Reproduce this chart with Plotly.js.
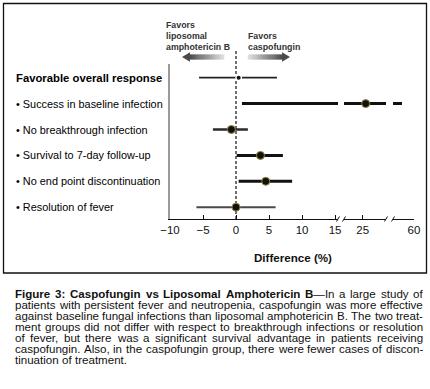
<!DOCTYPE html>
<html>
<head>
<meta charset="utf-8">
<script src="https://cdn.plot.ly/plotly-3.0.1.min.js"></script>
<style>
  html, body { margin: 0; padding: 0; background: #fff; }
  #chart { width: 430px; height: 389px; }
</style>
</head>
<body>
<div id="chart"></div>
<script>
// ---------- data ----------
const rowLabels = [
  "Favorable overall response",
  "• Success in baseline infection",
  "• No breakthrough infection",
  "• Survival to 7-day follow-up",
  "• No end point discontinuation",
  "• Resolution of fever"
];
const difference = [0.4, 26.0, -0.7, 3.7, 4.5, 0.0];
const ciLower    = [-5.6, 0.9, -3.5, 0.1, 0.4, -6.0];
const ciUpper    = [6.2, 51.3, 1.8, 7.1, 8.5, 6.0];

const tickVals1 = [-10, -5, 0, 5, 10, 15];
const tickText1 = ["\u221210", "\u22125", "0", "5", "10", "15"];
const tickVals2 = [25];
const tickText2 = ["25"];
const tickVals3 = [60];
const tickText3 = ["60"];

const favorsLeft  = ["Favors", "liposomal", "amphotericin B"];
const favorsRight = ["Favors", "caspofungin"];
const xTitle = "Difference (%)";

const captionLines = [
  "<b>Figure 3: Caspofungin vs Liposomal Amphotericin B</b>—In a large study of",
  "patients with persistent fever and neutropenia, caspofungin was more effective",
  "against baseline fungal infections than liposomal amphotericin B. The two treat-",
  "ment groups did not differ with respect to breakthrough infections or resolution",
  "of fever, but there was a significant survival advantage in patients receiving",
  "caspofungin. Also, in the caspofungin group, there were fewer cases of discon-",
  "tinuation of treatment."
];

// ---------- styles ----------
const FONT = '"Liberation Sans", Arial, Helvetica, sans-serif';
const lineColors = ["#222222", "#111111", "#2a2a2a", "#111111", "#111111", "#4a4a4a"];
const lineWidths = [1.7, 3, 2.4, 3, 3, 2];
const markerSizes = [5.5, 8, 8, 8, 8, 8];

// plot area in pixels
const W = 430, H = 389;
const L = 170, R = 414, T = 64, B = 219;
const PW = R - L, PH = B - T;
const px = v => (v - L) / PW;
const py = v => (B - v) / PH;

const ranges = [[-10, 15.45], [18.77, 32.77], [44.8, 60]];
const axisNames = ['x', 'x2', 'x3'];
const n = rowLabels.length;
const ypos = rowLabels.map((_, i) => n - 1 - i);

const traces = [];
for (let i = 0; i < n; i++) {
  for (let a = 0; a < 3; a++) {
    const [r0, r1] = ranges[a];
    if (ciUpper[i] < r0 || ciLower[i] > r1) continue;
    traces.push({
      x: [ciLower[i], ciUpper[i]], y: [ypos[i], ypos[i]],
      xaxis: axisNames[a], yaxis: 'y', mode: 'lines',
      line: { color: lineColors[i], width: lineWidths[i] },
      hoverinfo: 'skip', showlegend: false
    });
  }
}
for (let i = 0; i < n; i++) {
  for (let a = 0; a < 3; a++) {
    const [r0, r1] = ranges[a];
    if (difference[i] < r0 || difference[i] > r1) continue;
    const small = i === 0;
    traces.push({
      x: [difference[i]], y: [ypos[i]],
      xaxis: axisNames[a], yaxis: 'y', mode: 'markers',
      marker: {
        color: '#111111', size: markerSizes[i],
        line: small ? { color: '#ffffff', width: 1.4 } : { color: '#9a8a3a', width: 1 }
      },
      hoverinfo: 'skip', showlegend: false
    });
  }
}

const shapes = [];
// outer frame
shapes.push({ type: 'rect', xref: 'paper', yref: 'paper',
  x0: px(3.5), x1: px(426.5), y0: py(273), y1: py(3.5),
  line: { color: '#111', width: 1.3 }, fillcolor: 'rgba(0,0,0,0)' });
// zero reference line
shapes.push({ type: 'line', xref: 'x', yref: 'paper', x0: 0, x1: 0,
  y0: 0, y1: py(50), line: { color: '#111', width: 1.2, dash: '3px,2px' }, layer: 'below' });
// axis break slashes
[338, 344, 386, 393].forEach(xb => {
  shapes.push({ type: 'line', xref: 'paper', yref: 'paper',
    x0: px(xb - 1.5), y0: py(221.5), x1: px(xb + 1.5), y1: py(216.5),
    line: { color: '#111', width: 1 } });
});
// gradient arrows
function lerpColor(c0, c1, t) {
  const r = Math.round(c0[0] + (c1[0] - c0[0]) * t);
  const g = Math.round(c0[1] + (c1[1] - c0[1]) * t);
  const b = Math.round(c0[2] + (c1[2] - c0[2]) * t);
  return `rgb(${r},${g},${b})`;
}
const dark = [75, 75, 75], light = [225, 225, 225];
function arrow(tip, tail, yc) {
  const dir = tail > tip ? 1 : -1;
  const headLen = 8, headH = 4.8, shaftH = 2.5;
  const base = tip + dir * headLen;
  const steps = 36;
  for (let k = 0; k < steps; k++) {
    const a = base + (tail - base) * k / steps;
    const b = base + (tail - base) * (k + 1) / steps;
    shapes.push({ type: 'rect', xref: 'paper', yref: 'paper',
      x0: px(Math.min(a, b) - 0.3), x1: px(Math.max(a, b) + 0.3),
      y0: py(yc + shaftH), y1: py(yc - shaftH),
      line: { width: 0 }, fillcolor: lerpColor(dark, light, (k + 0.5) / steps) });
  }
  shapes.push({ type: 'path', xref: 'paper', yref: 'paper',
    path: `M ${px(tip)},${py(yc)} L ${px(base)},${py(yc - headH)} L ${px(base)},${py(yc + headH)} Z`,
    line: { width: 0 }, fillcolor: lerpColor(dark, light, 0) });
}
arrow(182, 224, 57);
arrow(290, 248, 57);

const annotations = [];
function addText(text, xpx, ypx, size, color) {
  annotations.push({
    text, xref: 'paper', yref: 'paper', x: px(xpx), y: py(ypx),
    xanchor: 'left', yanchor: 'middle', showarrow: false, borderpad: 0,
    font: { family: FONT, size, color }
  });
}
favorsLeft.forEach((t, k) => addText('<b>' + t + '</b>', 165, 25 + 11 * k, 8.8, '#333'));
favorsRight.forEach((t, k) => addText('<b>' + t + '</b>', 247, 36 + 11 * k, 8.8, '#333'));
rowLabels.forEach((t, i) => {
  annotations.push({
    text: i === 0 ? '<b>' + t + '</b>' : t,
    xref: 'paper', yref: 'y', x: px(15), y: ypos[i],
    xanchor: 'left', yanchor: 'middle', showarrow: false, borderpad: 0,
    font: { family: FONT, size: i === 0 ? 11.3 : 10.9, color: '#000' }
  });
});
annotations.push({ text: '<b>' + xTitle + '</b>', xref: 'paper', yref: 'paper',
  x: px(292.5), y: py(257), xanchor: 'center', yanchor: 'middle', showarrow: false,
  borderpad: 0, font: { family: FONT, size: 11.6, color: '#111' } });

// caption, justified word by word
const ctx = document.createElement('canvas').getContext('2d');
let CAP_SIZE = 10;
function measure(html) {
  let w = 0, bold = false;
  html.split(/(<b>|<\/b>)/).forEach(p => {
    if (p === '<b>') { bold = true; return; }
    if (p === '</b>') { bold = false; return; }
    if (!p) return;
    ctx.font = (bold ? 'bold ' : '') + CAP_SIZE + 'px "Liberation Sans", Arial, sans-serif';
    w += ctx.measureText(p).width;
  });
  return w;
}
function tokenize(line) {
  const words = [];
  let bold = false;
  line.split(' ').forEach(w => {
    const startsBold = bold;
    if (w.includes('<b>')) bold = true;
    if (w.includes('</b>')) bold = false;
    let t = w;
    if (startsBold && !t.startsWith('<b>')) t = '<b>' + t;
    if (bold && !t.endsWith('</b>')) t = t + '</b>';
    words.push(t);
  });
  return words;
}
const CAP_X0 = 14, CAP_X1 = 422;
{
  let maxW = 0;
  captionLines.slice(0, -1).forEach(l => { maxW = Math.max(maxW, measure(l)); });
  CAP_SIZE = Math.min(11.6, 10 * (CAP_X1 - CAP_X0 - 2) / maxW);
}
captionLines.forEach((line, k) => {
  const yc = 294 + 11 * k;
  const words = tokenize(line);
  const widths = words.map(measure);
  const total = widths.reduce((a, b) => a + b, 0);
  const last = k === captionLines.length - 1;
  const gap = last ? measure(' ') : (CAP_X1 - CAP_X0 - total) / (words.length - 1);
  let x = CAP_X0;
  words.forEach((w, j) => {
    annotations.push({ text: w, xref: 'paper', yref: 'paper', x: px(x), y: py(yc),
      xanchor: 'left', yanchor: 'middle', showarrow: false, borderpad: 0,
      font: { family: FONT, size: CAP_SIZE, color: '#111' } });
    x += widths[j] + gap;
  });
});

const tickFont = { family: FONT, size: 11.5, color: '#111' };
function xAxis(domain, range, vals, text) {
  return {
    domain, range, anchor: 'y', showline: true, linecolor: '#111', linewidth: 1.2,
    ticks: 'inside', ticklen: 4, tickcolor: '#111', tickwidth: 1,
    tickvals: vals, ticktext: text, tickfont: tickFont,
    showgrid: false, zeroline: false, fixedrange: true
  };
}

const layout = {
  width: W, height: H,
  margin: { l: L, r: W - R, t: T, b: H - B, pad: 0 },
  paper_bgcolor: '#ffffff', plot_bgcolor: 'rgba(0,0,0,0)',
  font: { family: FONT, color: '#111' },
  showlegend: false,
  xaxis: xAxis([0, px(338)], ranges[0], tickVals1, tickText1),
  xaxis2: xAxis([px(344), px(386)], ranges[1], tickVals2, tickText2),
  xaxis3: xAxis([px(393), 1], ranges[2], tickVals3, tickText3),
  yaxis: {
    domain: [0, 1], range: [-0.456, 5.53], anchor: 'x',
    showline: true, linecolor: '#9a9a9a', linewidth: 1.6,
    showticklabels: false, ticks: '', showgrid: false, zeroline: false, fixedrange: true
  },
  shapes, annotations
};

Plotly.newPlot('chart', traces, layout, { staticPlot: true, displayModeBar: false });
</script>
</body>
</html>
